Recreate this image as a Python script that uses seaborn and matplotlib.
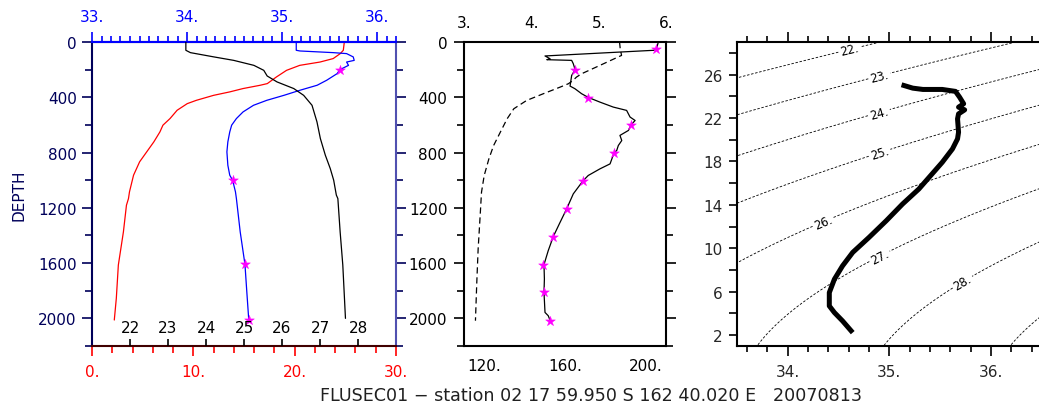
import numpy as np
import pandas as pd
import matplotlib
matplotlib.use("Agg")
import matplotlib.pyplot as plt
from matplotlib.ticker import MultipleLocator
import seaborn as sns

sns.set_style("ticks")
plt.rcParams["font.family"] = ["DejaVu Sans"]

# ---- CTD profile: temperature, salinity, sigma-t vs depth ----
depth_temp = [0, 60, 84, 120, 145, 169, 205, 229, 253, 301, 313, 337, 361, 386, 422,
              446, 494, 554, 602, 651, 723, 795, 867, 964, 1084, 1133, 1181, 1374,
              1614, 1855, 2012]
temperature = [24.9, 24.8, 24.5, 23.8, 22.5, 20.5, 19.2, 18.7, 18.2, 17.3, 16.6, 14.9,
               13.6, 12.0, 10.3, 9.4, 8.4, 7.7, 7.0, 6.7, 6.1, 5.4, 4.7, 4.1, 3.7, 3.6,
               3.4, 3.1, 2.6, 2.4, 2.2]

depth_salt = [0, 60, 65, 77, 84, 108, 133, 145, 169, 200, 229, 277, 313, 349, 386, 422,
              458, 506, 554, 602, 651, 723, 795, 892, 964, 1000, 1084, 1133, 1374, 1609,
              1812, 2010]
salinity = [35.15, 35.15, 35.19, 35.54, 35.68, 35.75, 35.76, 35.68, 35.70, 35.61, 35.58,
            35.47, 35.37, 35.19, 35.02, 34.84, 34.70, 34.59, 34.52, 34.47, 34.45, 34.43,
            34.42, 34.43, 34.45, 34.48, 34.51, 34.52, 34.56, 34.61, 34.63, 34.65]

bottle_salt_depth = [200, 1000, 1609, 2010]
bottle_salt = [35.61, 34.48, 34.61, 34.65]

depth_sigma = [0, 60, 77, 108, 133, 169, 205, 246, 289, 337, 386, 458, 578, 699, 819,
               916, 1000, 1108, 1133, 1374, 1614, 2000]
sigma_t = [23.47, 23.47, 23.59, 24.21, 24.73, 25.26, 25.52, 25.61, 25.87, 26.31, 26.57,
           26.79, 26.92, 27.01, 27.14, 27.27, 27.36, 27.43, 27.47, 27.53, 27.60, 27.67]

# ---- oxygen (bottom scale) and dashed profile (top scale) ----
depth_oxy = [0, 43, 60, 101, 121, 128, 133, 157, 200, 242, 290, 319, 338, 374, 401, 435,
             471, 495, 543, 568, 599, 640, 676, 713, 749, 785, 802, 882, 918, 966, 1005,
             1099, 1208, 1316, 1408, 1510, 1611, 1715, 1812, 1957, 1981, 2017]
oxygen = [206.2, 205.4, 204.0, 150.1, 152.6, 151.0, 163.3, 164.1, 165.0, 163.3, 162.8,
          162.5, 164.9, 168.2, 171.5, 177.3, 183.9, 190.5, 192.2, 194.7, 192.7, 191.4,
          187.2, 188.1, 186.4, 185.6, 184.3, 182.3, 177.3, 171.5, 168.9, 164.1, 160.8,
          157.2, 154.2, 151.7, 149.6, 149.8, 149.6, 150.1, 151.7, 152.7]

bottle_oxy_depth = [51, 203, 403, 600, 803, 1006, 1208, 1409, 1612, 1812, 2017]
bottle_oxy = [205.0, 165.0, 171.5, 192.7, 184.3, 169.0, 160.8, 154.2, 149.3, 149.6, 152.7]

depth_dash = [0, 48, 97, 169, 229, 254, 278, 302, 326, 374, 423, 483, 556, 652, 749,
              845, 966, 1087, 1256, 1498, 1739, 2017]
dash_value = [5.31, 5.32, 5.34, 5.02, 4.75, 4.67, 4.62, 4.55, 4.43, 4.18, 3.93, 3.74,
              3.64, 3.54, 3.44, 3.37, 3.30, 3.26, 3.24, 3.21, 3.19, 3.17]

# ---- T-S diagram curve ----
ts_salt = [35.12, 35.23, 35.33, 35.52, 35.65, 35.69, 35.73, 35.68, 35.74, 35.68, 35.67,
           35.68, 35.67, 35.62, 35.52, 35.42, 35.29, 35.13, 34.97, 34.80, 34.64, 34.54,
           34.46, 34.41, 34.41, 34.46, 34.54, 34.64]
ts_temp = [25.06, 24.75, 24.63, 24.63, 24.45, 23.92, 23.31, 23.0, 22.75, 22.38, 21.92,
           20.69, 20.08, 19.15, 17.92, 16.85, 15.46, 14.08, 12.54, 11.0, 9.62, 8.38,
           7.15, 5.92, 4.69, 4.08, 3.31, 2.23]

sigma_levels = [22, 23, 24, 25, 26, 27, 28, 29]
sigma_ticks = [22, 23, 24, 25, 26, 27, 28]
title = "FLUSEC01 \u2212 station 02 17 59.950 S 162 40.020 E   20070813"

RED = "#ff0000"
BLUE = "#0000ff"
NAVY = "#00005a"
MAG = "#ff00ff"
FS = 11

W, H = 1039, 410
fig = plt.figure(figsize=(W / 100, H / 100), dpi=100)


def rect(x0, x1, y0=43, y1=347):
    return [x0 / W, (H - y1) / H, (x1 - x0) / W, (y1 - y0) / H]


def depth_axis(ax, color, labelcolor, pad):
    ax.set_ylim(2200, 0)
    ax.yaxis.set_major_locator(MultipleLocator(400))
    ax.yaxis.set_minor_locator(MultipleLocator(200))
    ax.tick_params(axis="y", which="both", direction="out", left=True, right=True,
                   color=color, labelcolor=labelcolor, labelsize=FS, pad=pad, width=1.2)
    ax.tick_params(axis="y", which="major", length=7)
    ax.tick_params(axis="y", which="minor", length=5)
    ax.set_ylabel("")


# ================= Panel 1 =================
ax1 = fig.add_axes(rect(92, 396))
prof_t = pd.DataFrame({"depth": depth_temp, "temp": temperature})
sns.lineplot(data=prof_t, x="temp", y="depth", sort=False, estimator=None,
             color=RED, lw=0.9, ax=ax1)
ax1.set_xlim(0, 30)
ax1.set_xticks([0, 10, 20, 30])
ax1.set_xticklabels(["0.", "10.", "20.", "30."])
ax1.xaxis.set_minor_locator(MultipleLocator(2))
ax1.tick_params(axis="x", which="both", direction="out", color=RED, labelcolor=RED,
                labelsize=FS, pad=6, width=1.2)
ax1.tick_params(axis="x", which="major", length=7)
ax1.tick_params(axis="x", which="minor", length=5)
ax1.set_xlabel("")
depth_axis(ax1, NAVY, NAVY, 4)
ax1.set_ylabel("DEPTH", color=NAVY, fontsize=FS, labelpad=8)
ax1.spines["left"].set_color(NAVY)
ax1.spines["right"].set_color("#5050b0")
for s in ax1.spines.values():
    s.set_linewidth(1.5)
ax1.spines["bottom"].set_color("#400000")

# salinity on the top axis
ax1s = ax1.twiny()
prof_s = pd.DataFrame({"depth": depth_salt, "salt": salinity})
sns.lineplot(data=prof_s, x="salt", y="depth", sort=False, estimator=None,
             color=BLUE, lw=0.9, ax=ax1s)
sns.scatterplot(x=bottle_salt, y=bottle_salt_depth, marker="*", s=55, color=MAG,
                edgecolor=MAG, linewidth=0.3, ax=ax1s, zorder=5)
ax1s.set_xlim(33, 36.2)
ax1s.set_xticks([33, 34, 35, 36])
ax1s.set_xticklabels(["33.", "34.", "35.", "36."])
ax1s.xaxis.set_minor_locator(MultipleLocator(0.1))
ax1s.tick_params(axis="x", which="both", direction="out", color=BLUE, labelcolor=BLUE,
                 labelsize=FS, pad=6, width=1.2)
ax1s.tick_params(axis="x", which="major", length=7)
ax1s.tick_params(axis="x", which="minor", length=4)
ax1s.set_xlabel("")
ax1s.set_ylabel("")
ax1s.set_ylim(2200, 0)
ax1s.spines["top"].set_color(BLUE)
ax1s.spines["top"].set_linewidth(1.5)
for s in ["left", "right", "bottom"]:
    ax1s.spines[s].set_visible(False)

# sigma-t on an inner bottom scale
ax1d = ax1.twiny()
prof_d = pd.DataFrame({"depth": depth_sigma, "sigma": sigma_t})
sns.lineplot(data=prof_d, x="sigma", y="depth", sort=False, estimator=None,
             color="black", lw=0.9, ax=ax1d)
ax1d.set_xlim(21, 29)
ax1d.set_ylim(2200, 0)
ax1d.xaxis.set_ticks_position("bottom")
ax1d.xaxis.set_label_position("bottom")
ax1d.set_xticks(sigma_ticks)
ax1d.set_xticklabels([str(v) for v in sigma_ticks])
ax1d.tick_params(axis="x", direction="in", length=5, width=1.2, color="black",
                 labelcolor="black", labelsize=FS, pad=-19)
ax1d.set_xlabel("")
ax1d.set_ylabel("")
for s in ax1d.spines.values():
    s.set_visible(False)
ax1d.tick_params(axis="y", left=False, right=False, labelleft=False)

# ================= Panel 2 =================
ax2 = fig.add_axes(rect(464, 666))
prof_o = pd.DataFrame({"depth": depth_oxy, "oxy": oxygen})
sns.lineplot(data=prof_o, x="oxy", y="depth", sort=False, estimator=None,
             color="black", lw=0.9, ax=ax2)
sns.scatterplot(x=bottle_oxy, y=bottle_oxy_depth, marker="*", s=55, color=MAG,
                edgecolor=MAG, linewidth=0.3, ax=ax2, zorder=5)
ax2.set_xlim(110, 210)
ax2.set_xticks([120, 160, 200])
ax2.set_xticklabels(["120.", "160.", "200."])
ax2.tick_params(axis="x", length=0, labelsize=FS, pad=9, labelcolor="black")
ax2.set_xlabel("")
depth_axis(ax2, "black", "black", 5)
for s in ax2.spines.values():
    s.set_color("black")
    s.set_linewidth(1.5)

ax2t = ax2.twiny()
prof_n = pd.DataFrame({"depth": depth_dash, "val": dash_value})
sns.lineplot(data=prof_n, x="val", y="depth", sort=False, estimator=None,
             color="black", lw=0.9, ax=ax2t)
ax2t.lines[-1].set_dashes([5, 3])
ax2t.set_xlim(3, 6)
ax2t.set_ylim(2200, 0)
ax2t.set_xticks([3, 4, 5, 6])
ax2t.set_xticklabels(["3.", "4.", "5.", "6."])
ax2t.tick_params(axis="x", length=0, labelsize=FS, pad=9, labelcolor="black")
ax2t.set_xlabel("")
ax2t.set_ylabel("")
for s in ax2t.spines.values():
    s.set_visible(False)

# ================= Panel 3: T-S diagram =================
ax3 = fig.add_axes(rect(736.7, 1042))
s_grid = np.linspace(33.5, 36.5, 241)
t_grid = np.linspace(1, 29, 281)
SS, TT = np.meshgrid(s_grid, t_grid)
# UNESCO EOS-80 density at the surface
rho_w = (999.842594 + 6.793952e-2 * TT - 9.095290e-3 * TT**2 + 1.001685e-4 * TT**3
         - 1.120083e-6 * TT**4 + 6.536332e-9 * TT**5)
rho = (rho_w
       + SS * (0.824493 - 4.0899e-3 * TT + 7.6438e-5 * TT**2 - 8.2467e-7 * TT**3
               + 5.3875e-9 * TT**4)
       + SS**1.5 * (-5.72466e-3 + 1.0227e-4 * TT - 1.6546e-6 * TT**2)
       + 4.8314e-4 * SS**2)
cs = ax3.contour(SS, TT, rho - 1000, levels=sigma_levels, colors="black",
                 linewidths=0.6, linestyles=[(0, (3, 2))])
label_pos = [(34.61, 28.2), (34.90, 25.9), (34.90, 22.4), (34.90, 18.9),
             (34.35, 12.4), (34.90, 9.3), (35.71, 7.0)]
ax3.clabel(cs, levels=sigma_ticks, fmt="%d.", fontsize=8.5, inline=True,
           inline_spacing=2, manual=label_pos)

ts = pd.DataFrame({"salt": ts_salt, "temp": ts_temp})
sns.lineplot(data=ts, x="salt", y="temp", sort=False, estimator=None,
             color="black", lw=3.6, ax=ax3, solid_capstyle="butt")
ax3.set_xlim(33.5, 36.5)
ax3.set_ylim(1, 29)
ax3.set_xticks([34, 35, 36])
ax3.set_xticklabels(["34.", "35.", "36."])
ax3.xaxis.set_minor_locator(MultipleLocator(0.2))
ax3.set_yticks([2, 6, 10, 14, 18, 22, 26])
ax3.yaxis.set_minor_locator(MultipleLocator(2))
ax3.tick_params(axis="x", which="both", direction="out", top=True, bottom=True,
                labelsize=FS, pad=6, width=1.2, color="black")
ax3.tick_params(axis="x", which="major", length=7)
ax3.tick_params(axis="x", which="minor", length=4)
ax3.tick_params(axis="y", which="both", direction="out", left=True, right=False,
                labelsize=FS, pad=4, width=1.2, length=6, color="black")
ax3.set_xlabel("")
ax3.set_ylabel("")
for s in ax3.spines.values():
    s.set_color("black")
    s.set_linewidth(1.5)

fig.text(591 / W, (H - 396) / H, title, ha="center", va="center", fontsize=12.6,
         color="#202020")

fig.savefig("out.png", dpi=100)
